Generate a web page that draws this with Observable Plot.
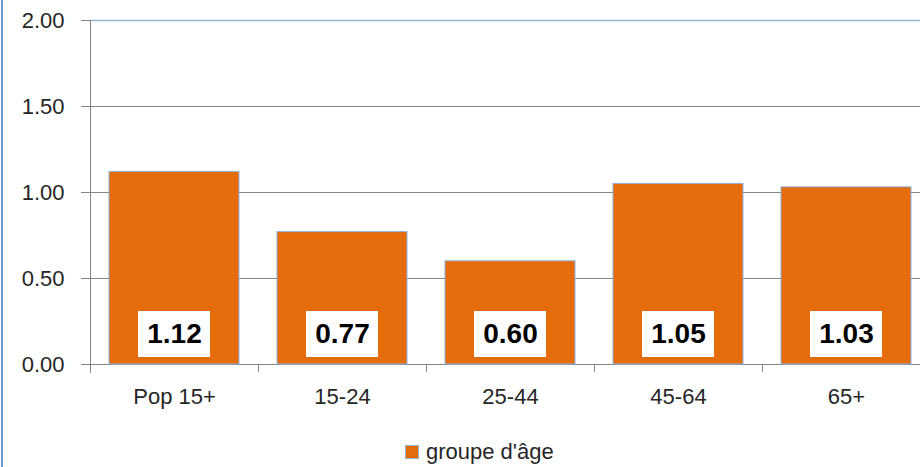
<!DOCTYPE html>
<html><head><meta charset="utf-8">
<script src="https://cdn.jsdelivr.net/npm/d3@7"></script>
<script src="https://cdn.jsdelivr.net/npm/@observablehq/plot@0.6"></script>
<style>
html,body{margin:0;padding:0;background:#fff;overflow:hidden;width:920px;height:467px}
#wrap{position:relative;width:920px;height:467px;overflow:hidden}
#border{position:absolute;left:1px;top:0;width:2px;height:467px;background:#6f9bd3}
#chart{position:absolute;left:0;top:0}
#chart svg{max-width:none !important}
#legend{position:absolute;left:405px;top:440px;font:22px/24px "Liberation Sans";color:#262626;display:flex;align-items:center;white-space:nowrap}
#legend .sw{width:12px;height:12px;background:#E46C0A;border:1px solid #8EB4E3;margin-right:7px;display:inline-block}
</style></head>
<body><div id="wrap"><div id="border"></div><div id="chart"></div>
<div id="legend"><span class="sw"></span><span id="lt"></span></div></div>
<script>
const categories = ["Pop 15+", "15-24", "25-44", "45-64", "65+"];
const values = [1.12, 0.77, 0.60, 1.05, 1.03];
const valueLabels = ["1.12", "0.77", "0.60", "1.05", "1.03"];
const yTicks = [0, 0.5, 1, 1.5, 2];
const yTickLabels = ["0.00", "0.50", "1.00", "1.50", "2.00"];
const seriesName = "groupe d'âge";

const data = categories.map((c, i) => ({cat: c, value: values[i], label: valueLabels[i]}));

const plot = Plot.plot({
  width: 930, height: 440,
  marginLeft: 90, marginRight: 0, marginTop: 20, marginBottom: 76,
  style: {fontFamily: "Liberation Sans", fontSize: "22px", color: "#262626", background: "transparent", overflow: "visible", maxWidth: "none"},
  x: {domain: categories, paddingInner: 0.226, paddingOuter: 0.113, label: null},
  y: {domain: [0, 2], label: null},
  marks: [
    Plot.gridY(yTicks.slice(0, -1), {stroke: "#868686", strokeOpacity: 1}),
    Plot.ruleY([2], {stroke: "#95B3D7", strokeWidth: 1.5}),
    Plot.barY(data, {x: "cat", y: "value", fill: "#E46C0A", stroke: "#8EB4E3", strokeWidth: 1}),
    Plot.barY(data, {x: "cat", y1: 0, y2: 0, insetLeft: 29, insetRight: 29, insetTop: -53, insetBottom: 7, fill: "white"}),
    Plot.text(data, {x: "cat", y: 0, text: "label", dy: -30, fontSize: 28, fontWeight: "bold", fill: "black"}),
    Plot.ruleX(categories, {x: d => d, dx: 84, y1: 0, y2: 0, insetBottom: -8, stroke: "#868686"}),
    Plot.ruleX(categories.slice(0, 1), {x: d => d, dx: -84, y1: 2, y2: 0, insetBottom: -9, stroke: "#868686"}),
    Plot.axisY(yTicks, {tickSize: 9, tickPadding: 17, tickFormat: (d) => yTickLabels[yTicks.indexOf(d)], stroke: "#868686", fill: "#262626", label: null}),
    Plot.axisX({tickSize: 0, tickPadding: 24, fill: "#262626", label: null})
  ]
});
plot.style.maxWidth = "none";
document.getElementById("chart").appendChild(plot);
document.getElementById("lt").textContent = seriesName;
</script>
</body></html>
